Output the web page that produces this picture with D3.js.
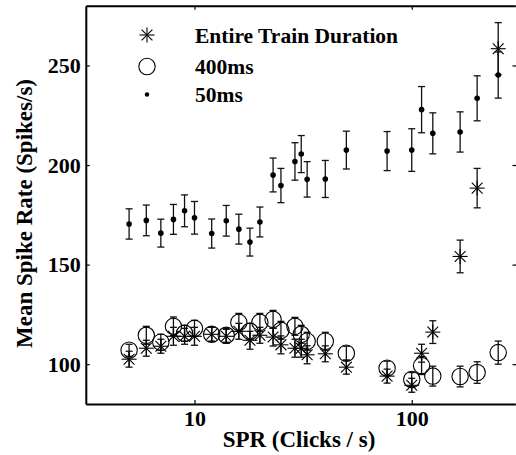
<!DOCTYPE html>
<html><head><meta charset="utf-8">
<script src="https://cdn.jsdelivr.net/npm/d3@7"></script>
<style>body{margin:0;background:#fff;} text{font-family:"Liberation Serif","Times New Roman",serif;font-weight:bold;}</style>
</head><body>
<svg id="chart" width="516" height="455"></svg>
<script>
const spr = [5,6,7,8,9,10,12,14,16,18,20,23,25,29,31,33,40,50,77,100,111,125,167,200,250];
const rate50 = [170.4,172.2,165.8,172.7,177.0,173.5,165.6,172.0,167.8,161.3,171.4,195.0,189.7,201.8,205.5,192.8,193.0,207.5,207.0,207.5,227.8,215.9,216.6,233.5,245.2];
const err50 = [7.6,7.7,7.0,7.5,8.0,8.2,7.3,7.7,7.5,7.0,7.5,8.5,8.6,9.4,9.3,8.9,9.3,9.5,9.8,10.7,11.6,10.3,10.1,11.3,11.6];
const rate400 = [107,114.5,111,119,115.5,118,115,114.5,121,116.5,121,122.5,117,119,115,111.5,111.5,105.5,98,92.3,99.3,94,93.8,95.8,105.8];
const err400 = [3,4.5,4,4.7,4,4,3.5,3.5,4.5,4,4.5,4.5,4.5,4.5,4.5,4.5,4.5,3.5,3.5,3.5,4.5,5,5.2,5.4,5.8];
const rateEntire = [102.5,108,109,114,114,114,115,114,116.5,112,114.5,113.6,109.7,108,108,104.7,105.2,98.5,94,89.4,105.5,116.1,154.1,188.4,258.4];
const errEntire = [4,4,3.5,4.5,4,4.5,3.5,3.5,4,4.5,4,4.5,4.5,4.5,4.5,4.5,4,3.5,3.5,3.5,4.5,5.7,8.2,9.9,13.1];
const xTicks = [10,100];
const yTicks = [100,150,200,250];
const legendLabels = ["Entire Train Duration","400ms","50ms"];
const xLabel = "SPR (Clicks / s)";
const yLabel = "Mean Spike Rate (Spikes/s)";

const svg = d3.select("#chart");
const x = d3.scaleLog().domain([3.16,300]).range([85.8,515.4]);
const y = d3.scaleLinear().domain([80,280]).range([404,5.7]);
const FS_TICK = 22, FS_LABEL = 23, FS_LEG = 21.5;

const g = svg.append("g");
g.append("g").attr("transform","translate(0,404)")
  .call(d3.axisBottom(x).tickValues(xTicks).tickFormat(d3.format("d")).tickSizeInner(-4).tickSizeOuter(0).tickPadding(6))
  .call(a=>{a.select(".domain").attr("stroke-width",2);a.selectAll("text").attr("font-size",FS_TICK).attr("fill","#000").attr("font-family","Liberation Serif");a.selectAll("line").attr("stroke-width",1.2);});
g.append("g").attr("transform","translate(0,5.7)")
  .call(d3.axisTop(x).tickValues(xTicks).tickFormat("").tickSizeInner(-4).tickSizeOuter(0))
  .call(a=>{a.select(".domain").attr("stroke-width",2);a.selectAll("line").attr("stroke-width",1.2);});
g.append("g").attr("transform","translate(85.8,0)")
  .call(d3.axisLeft(y).tickValues(yTicks).tickSizeInner(-4).tickSizeOuter(0).tickPadding(5))
  .call(a=>{a.select(".domain").attr("stroke-width",2);a.selectAll("text").attr("font-size",FS_TICK).attr("fill","#000").attr("font-family","Liberation Serif");a.selectAll("line").attr("stroke-width",1.2);});
g.append("g").attr("transform","translate(516.5,0)")
  .call(d3.axisRight(y).tickValues(yTicks).tickFormat("").tickSizeInner(-4).tickSizeOuter(0))
  .call(a=>{a.select(".domain").attr("stroke-width",2);a.selectAll("line").attr("stroke-width",1.2);});

svg.append("text").attr("x",299).attr("y",447).attr("text-anchor","middle").attr("font-size",FS_LABEL).text(xLabel);
svg.append("text").attr("transform","translate(32,213.5) rotate(-90)").attr("text-anchor","middle").attr("font-size",FS_LABEL).text(yLabel);

const cap = 3.5;
function errorbars(vals, errs){
  const eg = svg.append("g").attr("stroke","#111").attr("stroke-width",1.3).attr("fill","none");
  spr.forEach((s,i)=>{
    const cx = x(s), y1 = y(vals[i]+errs[i]), y2 = y(vals[i]-errs[i]);
    eg.append("line").attr("x1",cx).attr("x2",cx).attr("y1",y1).attr("y2",y2);
    eg.append("line").attr("x1",cx-cap).attr("x2",cx+cap).attr("y1",y1).attr("y2",y1);
    eg.append("line").attr("x1",cx-cap).attr("x2",cx+cap).attr("y1",y2).attr("y2",y2);
  });
}
function asterisk(sel, cx, cy, r){
  const gg = sel.append("g").attr("stroke","#000").attr("stroke-width",1.1);
  const d = r*0.72;
  gg.append("line").attr("x1",cx-r).attr("x2",cx+r).attr("y1",cy).attr("y2",cy);
  gg.append("line").attr("x1",cx).attr("x2",cx).attr("y1",cy-r).attr("y2",cy+r);
  gg.append("line").attr("x1",cx-d).attr("x2",cx+d).attr("y1",cy-d).attr("y2",cy+d);
  gg.append("line").attr("x1",cx-d).attr("x2",cx+d).attr("y1",cy+d).attr("y2",cy-d);
}

errorbars(rate400, err400);
svg.append("g").selectAll("circle").data(spr).join("circle")
  .attr("cx",d=>x(d)).attr("cy",(d,i)=>y(rate400[i])).attr("r",8.2)
  .attr("fill","none").attr("stroke","#000").attr("stroke-width",1.1);
errorbars(rateEntire, errEntire);
const ag = svg.append("g");
spr.forEach((s,i)=>asterisk(ag, x(s), y(rateEntire[i]), 7.5));
errorbars(rate50, err50);
svg.append("g").selectAll("circle").data(spr).join("circle")
  .attr("cx",d=>x(d)).attr("cy",(d,i)=>y(rate50[i])).attr("r",2.8).attr("fill","#000");

const lx = 147, ly = [35,66.5,94.5], tx = 195;
asterisk(svg, lx, ly[0], 7.5);
svg.append("circle").attr("cx",lx).attr("cy",ly[1]).attr("r",8.2).attr("fill","none").attr("stroke","#000").attr("stroke-width",1.1);
svg.append("circle").attr("cx",lx).attr("cy",ly[2]).attr("r",2.2).attr("fill","#000");
legendLabels.forEach((t,i)=>svg.append("text").attr("x",tx).attr("y",ly[i]+7.5).attr("font-size",FS_LEG).text(t));
</script>
</body></html>
